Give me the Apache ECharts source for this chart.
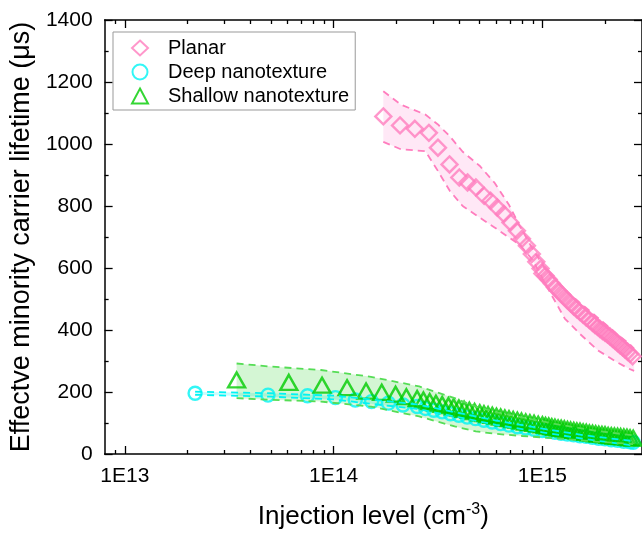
<!DOCTYPE html>
<html>
<head>
<meta charset="utf-8">
<script src="https://cdn.jsdelivr.net/npm/echarts@6/dist/echarts.min.js"></script>
<style>
  html, body { margin: 0; padding: 0; background: #fff; }
  #chart { width: 642px; height: 535px; }
</style>
</head>
<body>
<div id="chart"></div>
<script>
// x range of the log axis
const xMin = 8e12;
const xMax = 3e15;
const majorTicks = [1e13, 1e14, 1e15];
const minorTicks = [9e12, 2e13, 3e13, 4e13, 5e13, 6e13, 7e13, 8e13, 9e13,
    2e14, 3e14, 4e14, 5e14, 6e14, 7e14, 8e14, 9e14, 2e15];

// Planar
const planarX = [1.73e14, 2.08e14, 2.45e14, 2.86e14, 3.16e14, 3.59e14, 4.0e14, 4.38e14, 4.8e14, 5.26e14,
    5.65e14, 6.08e14, 6.54e14, 7.03e14, 7.55e14, 7.98e14, 8.43e14, 8.9e14, 9.35e14, 9.8e14,
    1.0e15, 1.035e15, 1.072e15, 1.109e15, 1.148e15, 1.189e15, 1.230e15, 1.274e15, 1.318e15, 1.365e15,
    1.413e15, 1.462e15, 1.514e15, 1.567e15, 1.622e15, 1.679e15, 1.738e15, 1.786e15, 1.837e15, 1.888e15,
    1.941e15, 1.995e15, 2.051e15, 2.109e15, 2.168e15, 2.228e15, 2.291e15, 2.355e15, 2.421e15, 2.489e15,
    2.559e15, 2.630e15, 2.704e15];
const planarY = [1089, 1060, 1049, 1036, 988, 934, 892, 876, 860, 833,
    817, 795, 774, 747, 720, 694, 672, 645, 620, 598,
    582, 575, 563, 550, 538, 527, 517, 506, 496, 486,
    476, 467, 458, 449, 440, 432, 423, 416, 410, 403,
    397, 391, 385, 379, 372, 365, 358, 351, 344, 337,
    330, 323, 315];
const planarBandX = [1.73e14, 2.1e14, 2.75e14, 3.16e14, 3.6e14, 4.15e14, 5.0e14, 5.9e14, 6.9e14, 7.8e14,
    9.0e14, 1.05e15, 1.28e15, 1.51e15, 1.84e15, 2.25e15, 2.6e15, 2.75e15];
const planarBandUp = [1170, 1127, 1095, 1063, 1025, 975, 930, 875, 805, 735,
    660, 590, 530, 488, 440, 390, 356, 340];
const planarBandLo = [1007, 983, 977, 913, 849, 800, 763, 731, 699, 675,
    625, 540, 437, 388, 335, 298, 275, 268];

// Deep nanotexture
const deepX = [2.17e13, 4.85e13, 7.5e13, 1.02e14, 1.27e14, 1.52e14, 1.83e14, 2.15e14, 2.512e14, 2.754e14,
    3.020e14, 3.311e14, 3.631e14, 3.981e14, 4.365e14, 4.786e14, 5.248e14, 5.754e14, 6.310e14, 6.918e14,
    7.586e14, 8.318e14, 9.120e14, 1.0e15, 1.072e15, 1.148e15, 1.230e15, 1.318e15, 1.413e15, 1.514e15,
    1.622e15, 1.738e15, 1.862e15, 1.995e15, 2.138e15, 2.291e15, 2.455e15, 2.630e15, 2.723e15];
const deepY = [196, 190, 188, 182, 174, 169, 164, 158, 153, 147,
    141, 136, 130, 125, 119, 114, 109, 103, 98, 93,
    88, 84, 80, 76, 73, 70, 67, 64, 62, 59,
    57, 54, 51, 49, 46, 44, 41, 39, 38];
const deepBandX = [2.17e13, 5e13, 1e14, 1.5e14, 2.5e14, 4e14, 6e14, 1e15, 1.6e15, 2.7e15];
const deepBandUp = [201, 196, 188, 176, 160, 132, 108, 82, 60, 42];
const deepBandLo = [191, 185, 176, 162, 146, 118, 94, 70, 48, 28];

// Shallow nanotexture
const shallowX = [3.43e13, 6.1e13, 8.8e13, 1.16e14, 1.43e14, 1.7e14, 1.98e14, 2.23e14, 2.512e14, 2.692e14,
    2.884e14, 3.090e14, 3.311e14, 3.548e14, 3.758e14, 3.981e14, 4.217e14, 4.467e14, 4.732e14, 5.012e14,
    5.248e14, 5.495e14, 5.754e14, 6.026e14, 6.310e14, 6.607e14, 6.918e14, 7.244e14, 7.586e14, 7.943e14,
    8.318e14, 8.710e14, 9.120e14, 9.550e14, 1.0e15, 1.035e15, 1.072e15, 1.109e15, 1.148e15, 1.189e15,
    1.230e15, 1.274e15, 1.318e15, 1.365e15, 1.413e15, 1.462e15, 1.514e15, 1.567e15, 1.622e15, 1.679e15,
    1.738e15, 1.799e15, 1.862e15, 1.928e15, 1.995e15, 2.065e15, 2.138e15, 2.213e15, 2.291e15, 2.371e15,
    2.455e15, 2.541e15, 2.630e15, 2.723e15];
const shallowY = [239, 231, 222, 214, 203, 199, 193, 185, 179, 174,
    169, 164, 160, 156, 152, 148, 144, 141, 137, 133,
    130, 127, 125, 122, 119, 116, 114, 111, 109, 106,
    103, 101, 99, 96, 94, 92, 90, 88, 86, 84,
    83, 81, 79, 77, 76, 74, 73, 71, 70, 68,
    67, 65, 64, 63, 62, 60, 59, 58, 57, 56,
    55, 54, 52, 51];
const shallowBandX = [3.43e13, 5.0e13, 8.7e13, 1.51e14, 2.57e14, 3.8e14, 4.8e14, 6.0e14, 8.0e14, 1.2e15, 1.8e15, 2.72e15];
const shallowBandUp = [292, 282, 271, 249, 218, 180, 153, 135, 118, 95, 75, 60];
const shallowBandLo = [180, 175, 169, 153, 121, 89, 73, 65, 58, 50, 40, 32];

const pink = '#FF7DBE';
const cyan = '#00F4F4';
const green = '#00CC00';
const font = 'Liberation Sans';

function pairs(xs, ys) {
    return xs.map((x, i) => [x, ys[i]]);
}

function bandSeries(xs, ups, los, fill) {
    return {
        type: 'custom',
        data: xs.map((x, i) => [x, los[i], ups[i]]),
        encode: {x: 0, y: [1, 2]},
        clip: true,
        silent: true,
        renderItem: function (params, api) {
            if (params.dataIndex !== 0) return;
            const top = xs.map((x, i) => api.coord([x, ups[i]]));
            const bottom = xs.map((x, i) => api.coord([x, los[i]])).reverse();
            return {type: 'polygon', shape: {points: top.concat(bottom)}, style: {fill: fill}};
        }
    };
}

function dashSeries(xs, ys, color) {
    return {
        type: 'line', data: pairs(xs, ys), showSymbol: false, silent: true,
        lineStyle: {color: color, width: 1.8, type: [7, 5]}
    };
}

function markSeries(name, xs, ys, symbol, size, color) {
    return {
        name: name, type: 'scatter', data: pairs(xs, ys), symbol: symbol, symbolSize: size,
        itemStyle: {color: 'rgba(255,255,255,0)', borderColor: color, borderWidth: 2.4},
        emphasis: {disabled: true}
    };
}

function xAxisDef(position, ticks, len, showLabel, extra) {
    return Object.assign({
        type: 'log', logBase: 10, min: xMin, max: xMax, position: position,
        axisLine: {show: true, lineStyle: {color: '#000', width: 1.5}},
        axisTick: {show: true, inside: true, length: len, customValues: ticks, lineStyle: {color: '#000', width: 1.3}},
        axisLabel: showLabel ? {
            customValues: ticks, margin: 12, color: '#000', fontFamily: font, fontSize: 21,
            formatter: v => '1E' + Math.round(Math.log10(v))
        } : {show: false},
        splitLine: {show: false}
    }, extra || {});
}

function yAxisDef(position, showLabel, extra) {
    return Object.assign({
        type: 'value', min: 0, max: 1400, interval: 200, position: position,
        axisLine: {show: true, lineStyle: {color: '#000', width: 1.5}},
        axisTick: {show: true, inside: true, length: 8, lineStyle: {color: '#000', width: 1.3}},
        minorTick: {show: true, splitNumber: 2, length: 4, lineStyle: {color: '#000', width: 1.3}},
        axisLabel: showLabel ? {
            margin: 12, color: '#000', fontFamily: font, fontSize: 21,
            formatter: v => String(v)
        } : {show: false},
        splitLine: {show: false}
    }, extra || {});
}

const chart = echarts.init(document.getElementById('chart'), null, {renderer: 'canvas'});
chart.setOption({
    animation: false,
    backgroundColor: '#fff',
    grid: {left: 101, top: 20, width: 544, height: 436},
    legend: {
        data: ['Planar', 'Deep nanotexture', 'Shallow nanotexture'],
        orient: 'vertical', left: 113, top: 32,
        padding: [6, 6, 4, 18],
        itemWidth: 16, itemHeight: 15, itemGap: 4,
        borderColor: '#999', borderWidth: 1,
        textStyle: {fontFamily: font, fontSize: 20, color: '#000', padding: [0, 0, 0, 15]}
    },
    xAxis: [
        xAxisDef('bottom', majorTicks, 8, true, {
            name: 'Injection level (cm{sup|-3})', nameLocation: 'middle', nameGap: 48,
            nameTextStyle: {
                fontFamily: font, fontSize: 26, color: '#000',
                rich: {sup: {fontFamily: font, fontSize: 16, color: '#000', padding: [0, 0, 14, 0]}}
            }
        }),
        xAxisDef('bottom', minorTicks, 4, false, {axisLine: {show: false}}),
        xAxisDef('top', majorTicks, 8, false),
        xAxisDef('top', minorTicks, 4, false, {axisLine: {show: false}})
    ],
    yAxis: [
        yAxisDef('left', true, {
            name: 'Effectve minority carrier lifetime (μs)', nameLocation: 'middle', nameGap: 62,
            nameTextStyle: {fontFamily: font, fontSize: 27, color: '#000'}
        }),
        yAxisDef('right', false)
    ],
    series: [
        bandSeries(deepBandX, deepBandUp, deepBandLo, 'rgba(0,240,240,0.2)'),
        dashSeries(deepBandX, deepBandUp, cyan),
        dashSeries(deepBandX, deepBandLo, cyan),
        markSeries('Deep nanotexture', deepX, deepY, 'circle', 13, cyan),
        bandSeries(shallowBandX, shallowBandUp, shallowBandLo, 'rgba(0,200,0,0.17)'),
        dashSeries(shallowBandX, shallowBandUp, '#55DD55'),
        dashSeries(shallowBandX, shallowBandLo, '#55DD55'),
        markSeries('Shallow nanotexture', shallowX, shallowY, 'triangle', [17, 15], green),
        bandSeries(planarBandX, planarBandUp, planarBandLo, 'rgba(255,150,215,0.22)'),
        dashSeries(planarBandX, planarBandUp, pink),
        dashSeries(planarBandX, planarBandLo, pink),
        markSeries('Planar', planarX, planarY, 'diamond', 16, pink)
    ]
});
</script>
</body>
</html>
